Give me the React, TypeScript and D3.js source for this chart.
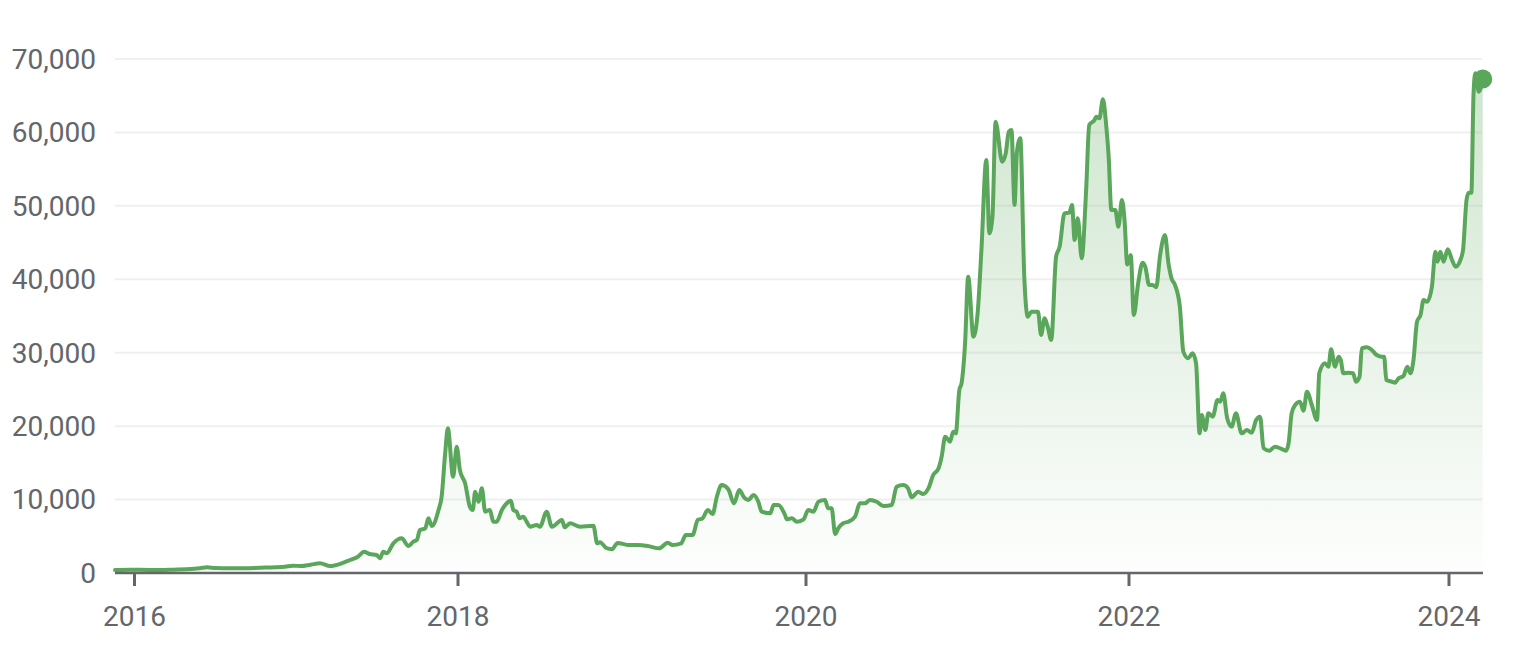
import React from "react";
import * as d3 from "d3";

const dates: string[] = [
  "2015-11-18","2015-12-22","2016-02-05","2016-03-21","2016-05-05","2016-05-28","2016-06-13","2016-07-01","2016-08-04","2016-09-07",
  "2016-10-11","2016-11-14","2016-12-06","2016-12-24","2017-01-11","2017-02-02","2017-02-23","2017-03-18","2017-04-13","2017-05-02",
  "2017-05-20","2017-06-03","2017-06-15","2017-07-01","2017-07-09","2017-07-16","2017-07-24","2017-08-08","2017-08-27","2017-09-11",
  "2017-09-22","2017-09-30","2017-10-07","2017-10-19","2017-10-26","2017-11-03","2017-11-18","2017-11-25","2017-12-03","2017-12-09",
  "2017-12-21","2017-12-29","2018-01-05","2018-01-16","2018-01-26","2018-02-01","2018-02-06","2018-02-13","2018-02-20","2018-02-27",
  "2018-03-09","2018-03-16","2018-03-23","2018-04-03","2018-04-17","2018-04-22","2018-04-27","2018-05-04","2018-05-10","2018-05-18",
  "2018-05-25","2018-06-01","2018-06-15","2018-06-22","2018-07-06","2018-07-17","2018-08-07","2018-08-13","2018-08-24","2018-09-14",
  "2018-10-12","2018-10-20","2018-10-26","2018-11-08","2018-11-20","2018-12-02","2018-12-23","2019-01-13","2019-02-03","2019-02-27",
  "2019-03-17","2019-03-27","2019-04-14","2019-04-24","2019-05-08","2019-05-19","2019-05-29","2019-06-09","2019-06-19","2019-06-28",
  "2019-07-08","2019-07-22","2019-08-03","2019-08-14","2019-08-24","2019-09-02","2019-09-13","2019-09-23","2019-09-30","2019-10-18",
  "2019-10-25","2019-11-04","2019-11-18","2019-11-22","2019-12-02","2019-12-13","2019-12-27","2020-01-06","2020-01-18","2020-01-29",
  "2020-02-13","2020-02-20","2020-02-28","2020-03-07","2020-03-14","2020-03-25","2020-04-06","2020-04-21","2020-05-02","2020-05-13",
  "2020-05-25","2020-06-09","2020-06-24","2020-07-13","2020-07-24","2020-08-08","2020-08-19","2020-08-27","2020-09-11","2020-09-22",
  "2020-10-04","2020-10-15","2020-10-27","2020-11-03","2020-11-11","2020-11-22","2020-11-29","2020-12-05","2020-12-13","2020-12-18",
  "2020-12-26","2021-01-02","2021-01-14","2021-01-24","2021-02-01","2021-02-12","2021-02-19","2021-02-26","2021-03-05","2021-03-20",
  "2021-03-28","2021-04-04","2021-04-10","2021-04-17","2021-04-22","2021-04-30","2021-05-09","2021-05-17","2021-05-25","2021-06-09",
  "2021-06-16","2021-06-24","2021-07-01","2021-07-09","2021-07-20","2021-07-28","2021-08-08","2021-08-19","2021-08-25","2021-08-31",
  "2021-09-07","2021-09-16","2021-09-26","2021-10-03","2021-10-15","2021-10-19","2021-10-26","2021-11-03","2021-11-10","2021-11-16",
  "2021-11-22","2021-12-01","2021-12-08","2021-12-16","2021-12-22","2021-12-28","2022-01-05","2022-01-12","2022-01-22","2022-02-01",
  "2022-02-07","2022-02-16","2022-02-24","2022-03-04","2022-03-13","2022-03-24","2022-04-01","2022-04-08","2022-04-16","2022-04-27",
  "2022-05-05","2022-05-16","2022-05-26","2022-06-03","2022-06-11","2022-06-16","2022-06-24","2022-07-01","2022-07-11","2022-07-22",
  "2022-07-28","2022-08-04","2022-08-13","2022-08-23","2022-09-02","2022-09-15","2022-09-27","2022-10-08","2022-10-18","2022-10-27",
  "2022-11-04","2022-11-17","2022-11-30","2022-12-12","2022-12-25","2022-12-31","2023-01-07","2023-01-15","2023-01-26","2023-02-03",
  "2023-02-11","2023-02-22","2023-03-06","2023-03-11","2023-03-24","2023-04-01","2023-04-07","2023-04-16","2023-04-24","2023-04-29",
  "2023-05-05","2023-05-17","2023-05-27","2023-06-03","2023-06-11","2023-06-16","2023-06-28","2023-07-09","2023-07-20","2023-08-01",
  "2023-08-06","2023-08-11","2023-08-24","2023-08-31","2023-09-08","2023-09-19","2023-09-28","2023-10-05","2023-10-12","2023-10-20",
  "2023-10-28","2023-11-04","2023-11-12","2023-11-23","2023-12-01","2023-12-06","2023-12-12","2023-12-20","2023-12-29","2024-01-08",
  "2024-01-16","2024-01-27","2024-02-02","2024-02-10","2024-02-15","2024-02-21","2024-02-26","2024-03-01","2024-03-09","2024-03-18",
];

const prices: number[] = [
  410,450,410,450,540,640,780,680,640,640,
  720,780,860,990,950,1130,1320,950,1320,1770,
  2220,2900,2590,2450,2000,2900,2680,4040,4720,3680,
  4270,4490,5860,6080,7450,6400,8580,10390,16300,19700,
  13100,17200,14000,12200,9000,8580,11070,9700,11530,8350,
  8580,6990,6990,8580,9710,9850,8580,8350,7450,7670,
  6990,6310,6540,6310,8350,6310,7220,6220,6770,6310,
  6440,4040,4200,3400,3230,4100,3810,3810,3680,3360,
  4130,3810,4040,5170,5170,7220,7450,8580,8030,10390,
  11980,11400,9490,11300,10310,9940,10620,9710,8350,8130,
  9260,9260,7900,7310,7450,6990,7310,8580,8350,9710,
  9940,8810,8810,5310,6080,6770,6990,7670,9490,9490,
  9940,9710,9120,9260,11750,11980,11530,10310,11070,10760,
  11530,13350,14260,15840,18560,17880,19240,19020,24920,25830,
  31280,40350,32180,35810,43990,56240,46260,48530,61460,56010,
  57150,60100,60330,50120,57150,59200,40350,34900,35580,35580,
  32410,34680,33540,31730,43080,44440,48980,49070,50120,45350,
  48310,42860,52160,61010,61690,62140,61920,64510,61240,56690,
  49430,49430,47160,50800,48000,42000,43310,35140,39500,42260,
  41720,39220,39220,38910,43310,46030,42180,40130,39220,36270,
  30140,29240,29920,28560,19020,21520,19470,21750,21290,23560,
  23330,24470,21070,19920,21750,19020,19470,19110,20840,21290,
  16980,16660,17200,16980,16660,17660,21750,22880,23330,22100,
  24690,22880,20840,27200,28560,28100,30460,28100,29460,29010,
  27200,27280,27200,26050,26740,30600,30740,30370,29690,29460,
  29460,26280,26050,25920,26510,26830,28100,27200,29010,34220,
  35140,37180,36950,38990,43760,42400,43760,42400,44090,42630,
  41720,42630,43990,50800,51790,51790,65330,68050,65550,67270,
];

const yTicks: number[] = [0, 10000, 20000, 30000, 40000, 50000, 60000, 70000];
const xTickDates: string[] = ["2016-01-01", "2018-01-01", "2020-01-01", "2022-01-01", "2024-01-01"];
const xTickLabels: string[] = ["2016", "2018", "2020", "2022", "2024"];

const W = 1521;
const H = 649;
const LINE = "#5aa65a";
const TEXT = "#63666a";
const AXIS = "#63666a";
const FONT = "Roboto, 'Noto Sans', sans-serif";

export default function App() {
  const parse = d3.timeParse("%Y-%m-%d");
  const data = dates.map((d, i) => ({ date: parse(d) as Date, value: prices[i] }));

  const x = d3
    .scaleTime()
    .domain(xTickDates.map((d) => parse(d) as Date))
    .range([134.5, 458, 806, 1129, 1449]);
  const y = d3.scaleLinear().domain([0, 70000]).range([573, 59]);

  const left = 115;
  const right = 1482;

  const line = d3
    .line<{ date: Date; value: number }>()
    .x((d) => x(d.date))
    .y((d) => y(d.value))
    .curve(d3.curveMonotoneX);
  const area = d3
    .area<{ date: Date; value: number }>()
    .x((d) => x(d.date))
    .y0(y(0))
    .y1((d) => y(d.value))
    .curve(d3.curveMonotoneX);

  const last = data[data.length - 1];
  const fmt = d3.format(",");

  return (
    <svg
      width={W}
      height={H}
      style={{ position: "absolute", left: 0, top: 0, background: "#fff" }}
      fontFamily={FONT}
    >
      <defs>
        <linearGradient id="fillGrad" gradientUnits="userSpaceOnUse" x1="0" y1={y(70000)} x2="0" y2={y(0)}>
          <stop offset="0" stopColor={LINE} stopOpacity={0.3} />
          <stop offset="1" stopColor={LINE} stopOpacity={0.01} />
        </linearGradient>
      </defs>
      {yTicks.filter((t) => t > 0).map((t) => (
        <line key={t} x1={left} x2={right} y1={y(t)} y2={y(t)} stroke="#f0f0f0" strokeWidth={2} />
      ))}
      {yTicks.map((t) => (
        <text
          key={"l" + t}
          x={96}
          y={y(t)}
          dy="0.35em"
          textAnchor="end"
          fontSize={28}
          fill={TEXT}
        >
          {fmt(t)}
        </text>
      ))}
      <path d={area(data) || ""} fill="url(#fillGrad)" />
      <path
        d={line(data) || ""}
        fill="none"
        stroke={LINE}
        strokeWidth={4}
        strokeLinejoin="round"
        strokeLinecap="round"
      />
      <line x1={left} x2={right + 1} y1={y(0)} y2={y(0)} stroke={AXIS} strokeWidth={2.5} />
      {xTickDates.map((d, i) => {
        const px = x(parse(d) as Date);
        return (
          <g key={d}>
            <line x1={px} x2={px} y1={y(0)} y2={y(0) + 13} stroke={AXIS} strokeWidth={3} />
            <text x={px} y={626} textAnchor="middle" fontSize={28} fill={TEXT}>
              {xTickLabels[i]}
            </text>
          </g>
        );
      })}
      <circle cx={x(last.date)} cy={y(last.value)} r={9.5} fill={LINE} />
    </svg>
  );
}
